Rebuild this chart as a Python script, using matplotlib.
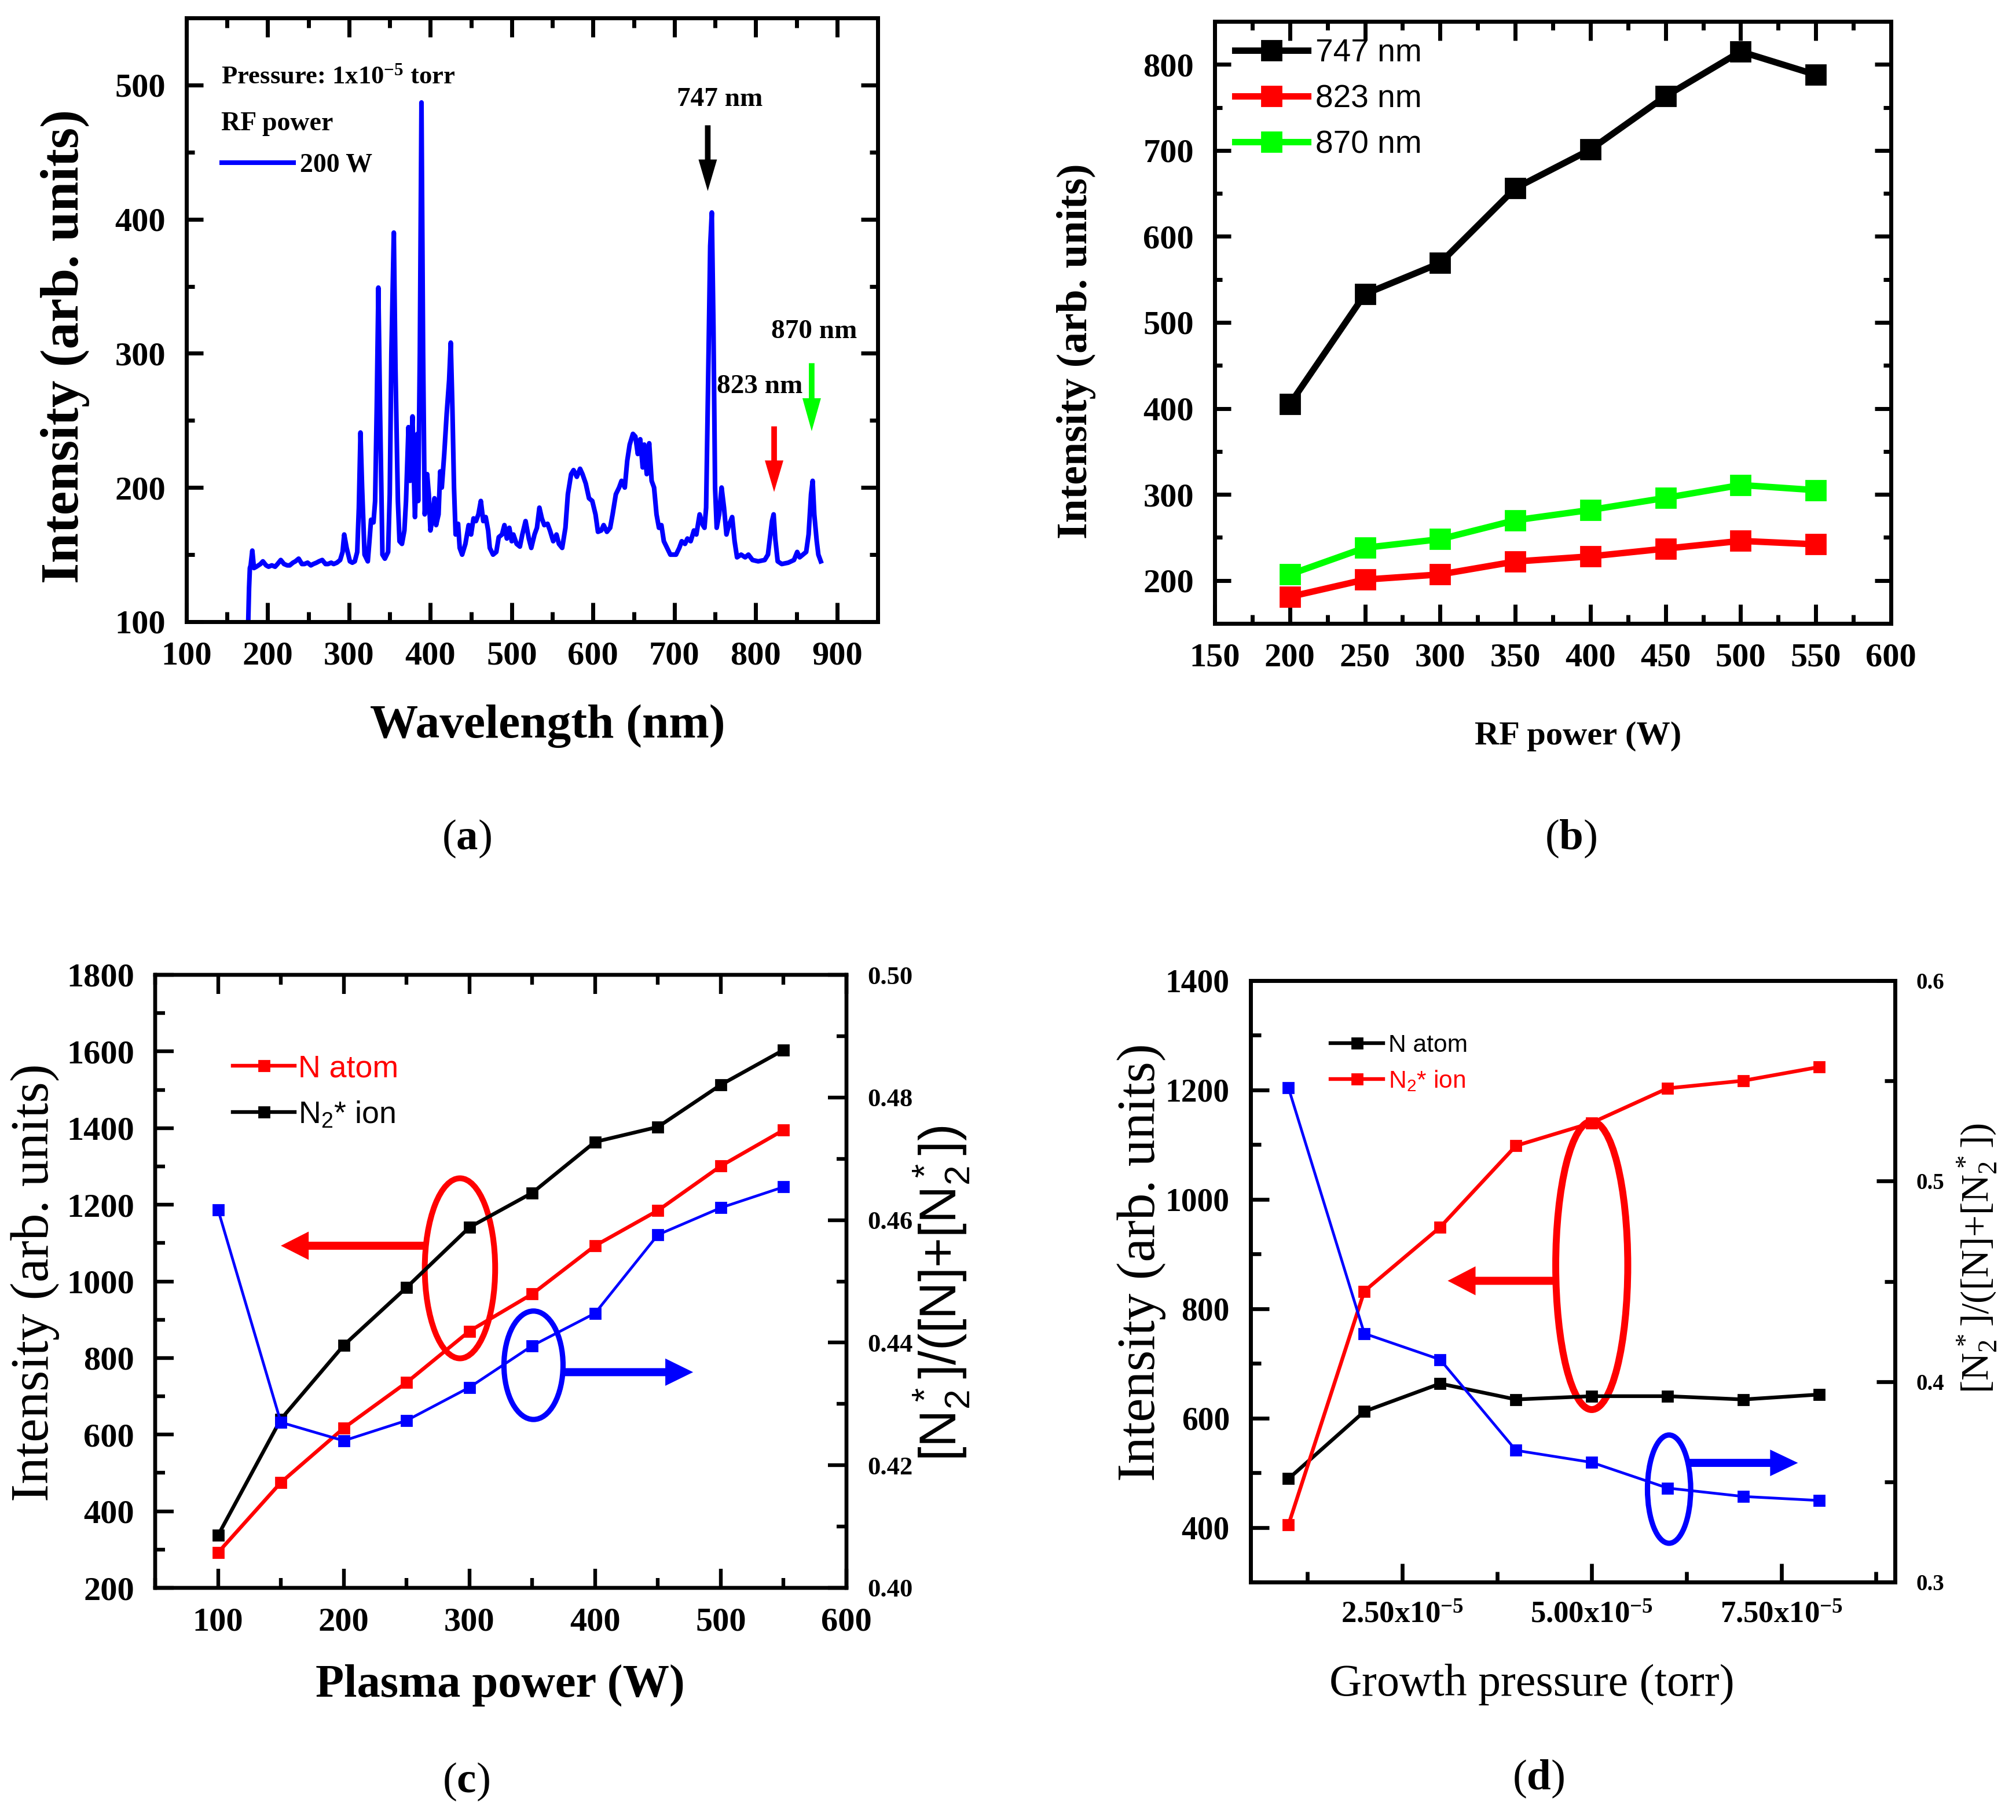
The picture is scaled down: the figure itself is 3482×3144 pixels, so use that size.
import matplotlib
matplotlib.use('Agg')
import matplotlib.pyplot as plt
from matplotlib import font_manager as fm
from matplotlib.patches import Ellipse
from matplotlib.ticker import MultipleLocator

plt.rcParams['font.family'] = ['Liberation Serif', 'DejaVu Serif']
plt.rcParams['font.weight'] = 'bold'
plt.rcParams['mathtext.fontset'] = 'custom'
plt.rcParams['mathtext.rm'] = 'Liberation Serif'
plt.rcParams['mathtext.bf'] = 'Liberation Serif:bold'
plt.rcParams['mathtext.default'] = 'regular'

# ---------------- data ----------------
# (a) emission spectrum, 200 W, 1e-5 torr
spectrum_nm = [176, 177, 178, 179, 181, 183, 186, 191, 194, 198,
               201, 205, 209, 212, 216, 220, 224, 227, 231, 234,
               238, 242, 245, 249, 253, 256, 260, 263, 267, 271,
               274, 278, 281, 285, 289, 292, 294, 297, 301, 304,
               307, 310, 312, 314, 316, 319, 323, 325, 327, 330,
               332, 334, 336, 338, 341, 344, 348, 350, 352, 355,
               357, 360, 362, 365, 368, 370, 373, 375, 378, 380,
               381, 384, 385, 386, 387, 389, 391, 393, 396, 398,
               400, 402, 405, 407, 410, 412, 414, 417, 420, 423,
               425, 427, 429, 431, 434, 436, 439, 443, 447, 450,
               453, 456, 459, 462, 465, 468, 471, 473, 477, 481,
               484, 488, 491, 494, 497, 500, 502, 506, 510, 513,
               517, 521, 524, 528, 531, 534, 537, 540, 544, 547,
               551, 555, 558, 562, 566, 569, 573, 576, 580, 584,
               587, 591, 595, 599, 603, 606, 610, 613, 617, 621,
               624, 628, 632, 635, 639, 642, 645, 649, 652, 655,
               658, 661, 663, 666, 669, 672, 675, 678, 681, 684,
               687, 691, 695, 698, 702, 706, 709, 713, 716, 720,
               724, 727, 731, 735, 737, 739, 742, 744, 746, 748,
               750, 752, 755, 758, 761, 764, 767, 771, 774, 777,
               782, 787, 791, 796, 803, 811, 815, 818, 820, 822,
               824, 827, 832, 840, 847, 851, 854, 858, 862, 865,
               868, 870, 872, 875, 877, 880]
spectrum_int = [100, 125, 140, 142, 153, 140, 141, 143, 145, 142,
                141, 142, 141, 143, 146, 143, 142, 142, 144, 145,
                147, 143, 143, 144, 142, 143, 144, 145, 146, 143,
                143, 144, 143, 144, 146, 152, 165, 155, 145, 144,
                145, 152, 185, 241, 200, 150, 145, 160, 176, 174,
                190, 260, 349, 260, 150, 147, 152, 195, 300, 390,
                290, 190, 160, 158, 168, 190, 245, 205, 253, 200,
                178, 240, 190, 245, 300, 487, 300, 180, 210, 195,
                168, 175, 192, 172, 180, 212, 200, 225, 255, 280,
                308, 260, 200, 165, 173, 155, 150, 158, 172, 165,
                177, 175, 180, 190, 175, 178, 168, 155, 150, 152,
                163, 165, 172, 162, 170, 160, 165, 158, 156, 165,
                175, 162, 155, 165, 170, 185, 177, 172, 173, 168,
                160, 165, 158, 155, 170, 195, 210, 213, 208, 214,
                210, 203, 192, 190, 180, 167, 168, 172, 167, 170,
                180, 195, 200, 205, 200, 220, 232, 240, 238, 225,
                236, 215, 232, 210, 233, 205, 200, 180, 170, 172,
                160, 155, 150, 150, 150, 155, 160, 158, 162, 160,
                168, 165, 180, 172, 170, 185, 300, 380, 405, 320,
                200, 170, 180, 200, 185, 165, 172, 178, 160, 148,
                150, 148, 150, 146, 145, 146, 150, 165, 175, 180,
                162, 145, 143, 144, 146, 152, 148, 150, 152, 165,
                195, 205, 180, 160, 150, 145]
a_xticks = [100, 200, 300, 400, 500, 600, 700, 800, 900]
a_yticks = [100, 200, 300, 400, 500]

# (b) line intensities vs RF power
rf_power = [200, 250, 300, 350, 400, 450, 500, 550]
int_747 = [405, 533, 569, 656, 701, 763, 815, 788]
int_823 = [181, 201, 207, 222, 228, 237, 246, 242]
int_870 = [207, 238, 248, 270, 282, 296, 311, 305]
b_xticks = [150, 200, 250, 300, 350, 400, 450, 500, 550, 600]
b_yticks = [200, 300, 400, 500, 600, 700, 800]

# (c) vs plasma power
plasma_power = [100, 150, 200, 250, 300, 350, 400, 450, 500, 550]
c_n_atom = [292, 475, 617, 736, 870, 967, 1093, 1185, 1301, 1395]
c_n2_ion = [337, 640, 833, 984, 1141, 1231, 1364, 1403, 1513, 1604]
c_ratio = [0.4617, 0.4270, 0.4240, 0.4273, 0.4327, 0.4395, 0.4448, 0.4576, 0.4620, 0.4654]
c_xticks = [100, 200, 300, 400, 500, 600]
c_yticks = [200, 400, 600, 800, 1000, 1200, 1400, 1600, 1800]
c_rticks = [0.40, 0.42, 0.44, 0.46, 0.48, 0.50]
c_rlabels = ['0.40', '0.42', '0.44', '0.46', '0.48', '0.50']

# (d) vs growth pressure
pressure = [1e-5, 2e-5, 3e-5, 4e-5, 5e-5, 6e-5, 7e-5, 8e-5]
d_n_atom = [489, 612, 663, 634, 640, 640, 634, 643]
d_n2_ion = [405, 832, 949, 1098, 1140, 1203, 1217, 1242]
d_ratio = [0.5465, 0.4240, 0.4110, 0.3657, 0.3597, 0.3469, 0.3427, 0.3407]
d_xticks = [2.5e-5, 5.0e-5, 7.5e-5]
d_xlabels = ['2.50x10$^{-5}$', '5.00x10$^{-5}$', '7.50x10$^{-5}$']
d_yticks = [400, 600, 800, 1000, 1200, 1400]
d_rticks = [0.3, 0.4, 0.5, 0.6]
d_rlabels = ['0.3', '0.4', '0.5', '0.6']

BLUE, RED, GREEN = '#0000FF', '#FF0000', '#00FF00'

# narrow sans for legends (fallback to Liberation Sans at smaller size)
_names = {f.name for f in fm.fontManager.ttflist}
if 'Liberation Sans Narrow' in _names:
    SANS = ['Liberation Sans Narrow', 'DejaVu Sans']
    k_sans = 1.0
else:
    SANS = ['Liberation Sans', 'DejaVu Sans']
    k_sans = 0.9

# ---------------- figure ----------------
W, H = 3482, 3144
fig = plt.figure(figsize=(W / 200, H / 200), dpi=200)


def px_axes(l, t, r, b):
    return fig.add_axes([l / W, 1 - b / H, (r - l) / W, (b - t) / H])


def ftext(x, y, s, **kw):
    fig.text(x / W, 1 - y / H, s, ha='center', va='center', **kw)


def style(ax, lw, xmaj, xmin, ymaj, ymin, top=True, right=True):
    for s in ax.spines.values():
        s.set_linewidth(lw)
    ax.tick_params(which='both', direction='in', width=lw, top=top, right=right)
    ax.tick_params(axis='x', which='major', length=xmaj, pad=12)
    ax.tick_params(axis='x', which='minor', length=xmin)
    ax.tick_params(axis='y', which='major', length=ymaj, pad=13)
    ax.tick_params(axis='y', which='minor', length=ymin)


def arrow(ax, tail, tip, color, hl, hw, tw):
    ax.annotate('', xy=tip, xytext=tail,
                arrowprops=dict(arrowstyle=f'simple,head_length={hl},head_width={hw},tail_width={tw}',
                                mutation_scale=1, fc=color, ec='none', lw=0,
                                shrinkA=0, shrinkB=0))


# ---- (a) ----
axA = px_axes(322, 31, 1516, 1074)
axA.plot(spectrum_nm, spectrum_int, color=BLUE, lw=2.9, label='200 W', solid_joinstyle='round')
axA.set_xlim(100, 950)
axA.set_ylim(100, 550)
style(axA, 2.5, 12, 6, 10.5, 5)
axA.set_xticks(a_xticks)
axA.set_xticklabels([str(v) for v in a_xticks], fontsize=21)
axA.set_yticks(a_yticks)
axA.set_yticklabels([str(v) for v in a_yticks], fontsize=21)
axA.xaxis.set_minor_locator(MultipleLocator(50))
axA.yaxis.set_minor_locator(MultipleLocator(50))
axA.text(143, 506, 'Pressure: 1x10$^{-5}$ torr', fontsize=16, ha='left', va='center')
axA.text(143, 471, 'RF power', fontsize=16.5, ha='left', va='center')
axA.legend(loc='center left', bbox_to_anchor=(143.4, 440), bbox_transform=axA.transData,
           frameon=False, borderpad=0, borderaxespad=0, handlelength=2.7, handletextpad=0.25,
           prop={'size': 16.5, 'weight': 'bold'})
axA.text(756, 489, '747 nm', fontsize=17, ha='center', va='center')
axA.text(805, 275, '823 nm', fontsize=17, ha='center', va='center')
axA.text(872, 316, '870 nm', fontsize=17, ha='center', va='center')
arrow(axA, (741, 470), (741, 421), 'black', 19.6, 11.5, 3.5)
arrow(axA, (822.6, 245.6), (822.6, 196.7), RED, 19.6, 11.5, 3.5)
arrow(axA, (868.8, 292.7), (868.8, 242), GREEN, 20.5, 11.5, 3.5)
ftext(113, 598, 'Intensity (arb. units)', fontsize=33.5, rotation=90)
ftext(946, 1254, 'Wavelength (nm)', fontsize=30)
ftext(806, 1449, r'($\mathbf{a}$)', fontsize=27, fontweight='normal')

# ---- (b) ----
axB = px_axes(2098, 37, 3266, 1077)
axB.plot(rf_power, int_747, '-s', color='black', lw=4, ms=12.5, label='747 nm')
axB.plot(rf_power, int_823, '-s', color=RED, lw=4, ms=12.5, label='823 nm')
axB.plot(rf_power, int_870, '-s', color=GREEN, lw=4, ms=12.5, label='870 nm')
axB.set_xlim(150, 600)
axB.set_ylim(150, 850)
style(axB, 2.5, 12, 5.5, 10, 4.7)
axB.set_xticks(b_xticks)
axB.set_xticklabels([str(v) for v in b_xticks], fontsize=21)
axB.set_yticks(b_yticks)
axB.set_yticklabels([str(v) for v in b_yticks], fontsize=21)
axB.xaxis.set_minor_locator(MultipleLocator(25))
axB.yaxis.set_minor_locator(MultipleLocator(50))
fsB = 22 * k_sans
axB.legend(loc='center left', bbox_to_anchor=(0.030, 0.871), frameon=False, borderpad=0,
           borderaxespad=0, handlelength=126 / (fsB * 2.778), handletextpad=13 / (fsB * 2.778),
           labelspacing=(77.5 - 0.92 * fsB * 2.778) / (fsB * 2.778),
           prop={'family': SANS, 'size': fsB, 'weight': 'normal'})
ftext(1859, 607, 'Intensity (arb. units)', fontsize=26.5, rotation=90)
ftext(2726, 1272, 'RF power (W)', fontsize=21)
ftext(2713, 1449, r'($\mathbf{b}$)', fontsize=27, fontweight='normal')

# ---- (c) ----
axC = px_axes(268, 1684, 1462, 2743)
axC.plot(plasma_power, c_n_atom, '-s', color=RED, lw=2.3, ms=6.4, label='N atom')
axC.plot(plasma_power, c_n2_ion, '-s', color='black', lw=2.3, ms=6.4, label='N$_2$* ion')
axC.set_xlim(50, 600)
axC.set_ylim(200, 1800)
style(axC, 2.3, 12, 6, 11.5, 6, top=True, right=False)
axC.set_xticks(c_xticks)
axC.set_xticklabels([str(v) for v in c_xticks], fontsize=21)
axC.set_yticks(c_yticks)
axC.set_yticklabels([str(v) for v in c_yticks], fontsize=21)
axC.xaxis.set_minor_locator(MultipleLocator(50))
axC.yaxis.set_minor_locator(MultipleLocator(100))
axC2 = axC.twinx()
axC2.plot(plasma_power, c_ratio, '-s', color=BLUE, lw=1.7, ms=6.4)
axC2.set_ylim(0.40, 0.50)
style(axC2, 2.3, 12, 6, 11.5, 6, top=False, right=True)
axC2.tick_params(left=False, which='both')
axC2.set_yticks(c_rticks)
axC2.set_yticklabels(c_rlabels, fontsize=16)
axC2.yaxis.set_minor_locator(MultipleLocator(0.01))
fsC = 21.5 * k_sans
axC.legend(loc='center left', bbox_to_anchor=(0.1126, 0.809), frameon=False, borderpad=0,
           borderaxespad=0, handlelength=107 / (fsC * 2.778), handletextpad=6 / (fsC * 2.778),
           labelspacing=(78 - 0.92 * fsC * 2.778) / (fsC * 2.778),
           labelcolor='linecolor', prop={'family': SANS, 'size': fsC, 'weight': 'normal'})
axC.add_patch(Ellipse((292.5, 1034), 56, 470, fill=False, ec=RED, lw=3.6))
arrow(axC, (264, 1093), (150, 1093), RED, 17.3, 17.6, 5)
axC.add_patch(Ellipse((351, 781), 47, 283, fill=False, ec=BLUE, lw=3.3))
arrow(axC, (375, 763), (478, 763), BLUE, 17.3, 17.0, 5)
ftext(61, 2216, 'Intensity (arb. units)', fontsize=33.5, rotation=90, fontweight='normal')
ftext(864, 2911, 'Plasma power (W)', fontsize=29)
ftext(1626, 2234, '[N$_2^*$]/([N]+[N$_2^*$])', fontsize=32, rotation=90,
      family=SANS, fontweight='normal')
ftext(805, 3078, r'($\mathbf{c}$)', fontsize=27, fontweight='normal')

# ---- (d) ----
axD = px_axes(2160, 1694, 3273, 2733)
axD.plot(pressure, d_n_atom, '-s', color='black', lw=2.3, ms=6.4, label='N atom')
axD.plot(pressure, d_n2_ion, '-s', color=RED, lw=2.3, ms=6.4, label='N$_2$* ion')
axD.set_xlim(0.5e-5, 9.0e-5)
axD.set_ylim(300, 1400)
style(axD, 2.4, 11.5, 6.5, 11.5, 6.5, top=False, right=False)
axD.set_xticks(d_xticks)
axD.set_xticklabels(d_xlabels, fontsize=19)
axD.set_yticks(d_yticks)
axD.set_yticklabels([str(v) for v in d_yticks], fontsize=20)
axD.xaxis.set_minor_locator(MultipleLocator(1.25e-5))
axD.yaxis.set_minor_locator(MultipleLocator(100))
axD2 = axD.twinx()
axD2.plot(pressure, d_ratio, '-s', color=BLUE, lw=1.7, ms=6.4)
axD2.set_ylim(0.3, 0.6)
style(axD2, 2.4, 11.5, 6.5, 11.5, 6.5, top=False, right=True)
axD2.tick_params(left=False, which='both')
axD2.set_yticks(d_rticks)
axD2.set_yticklabels(d_rlabels, fontsize=14)
axD2.yaxis.set_minor_locator(MultipleLocator(0.05))
fsD = 17 * k_sans
axD.legend(loc='center left', bbox_to_anchor=(0.124, 0.8625), frameon=False, borderpad=0,
           borderaxespad=0, handlelength=91 / (fsD * 2.778), handletextpad=9 / (fsD * 2.778),
           labelspacing=(59 - 0.92 * fsD * 2.778) / (fsD * 2.778),
           labelcolor='linecolor', prop={'family': SANS, 'size': fsD, 'weight': 'normal'})
axD.add_patch(Ellipse((5.0e-5, 879), 0.95e-5, 527, fill=False, ec=RED, lw=4.3))
arrow(axD, (4.54e-5, 851), (3.1e-5, 851), RED, 17.3, 18, 5)
axD.add_patch(Ellipse((6.02e-5, 470), 0.57e-5, 198, fill=False, ec=BLUE, lw=3.3))
arrow(axD, (6.26e-5, 518), (7.72e-5, 518), BLUE, 17.3, 16.5, 5)
ftext(1971, 2181, 'Intensity (arb. units)', fontsize=33.5, rotation=90, fontweight='normal')
ftext(2646, 2910, 'Growth pressure (torr)', fontsize=28, fontweight='normal')
ftext(3415, 2174, '[N$_2^*$]/([N]+[N$_2^*$])', fontsize=24, rotation=90, fontweight='normal')
ftext(2657, 3073, r'($\mathbf{d}$)', fontsize=27, fontweight='normal')

fig.savefig('out.png', dpi=200)
